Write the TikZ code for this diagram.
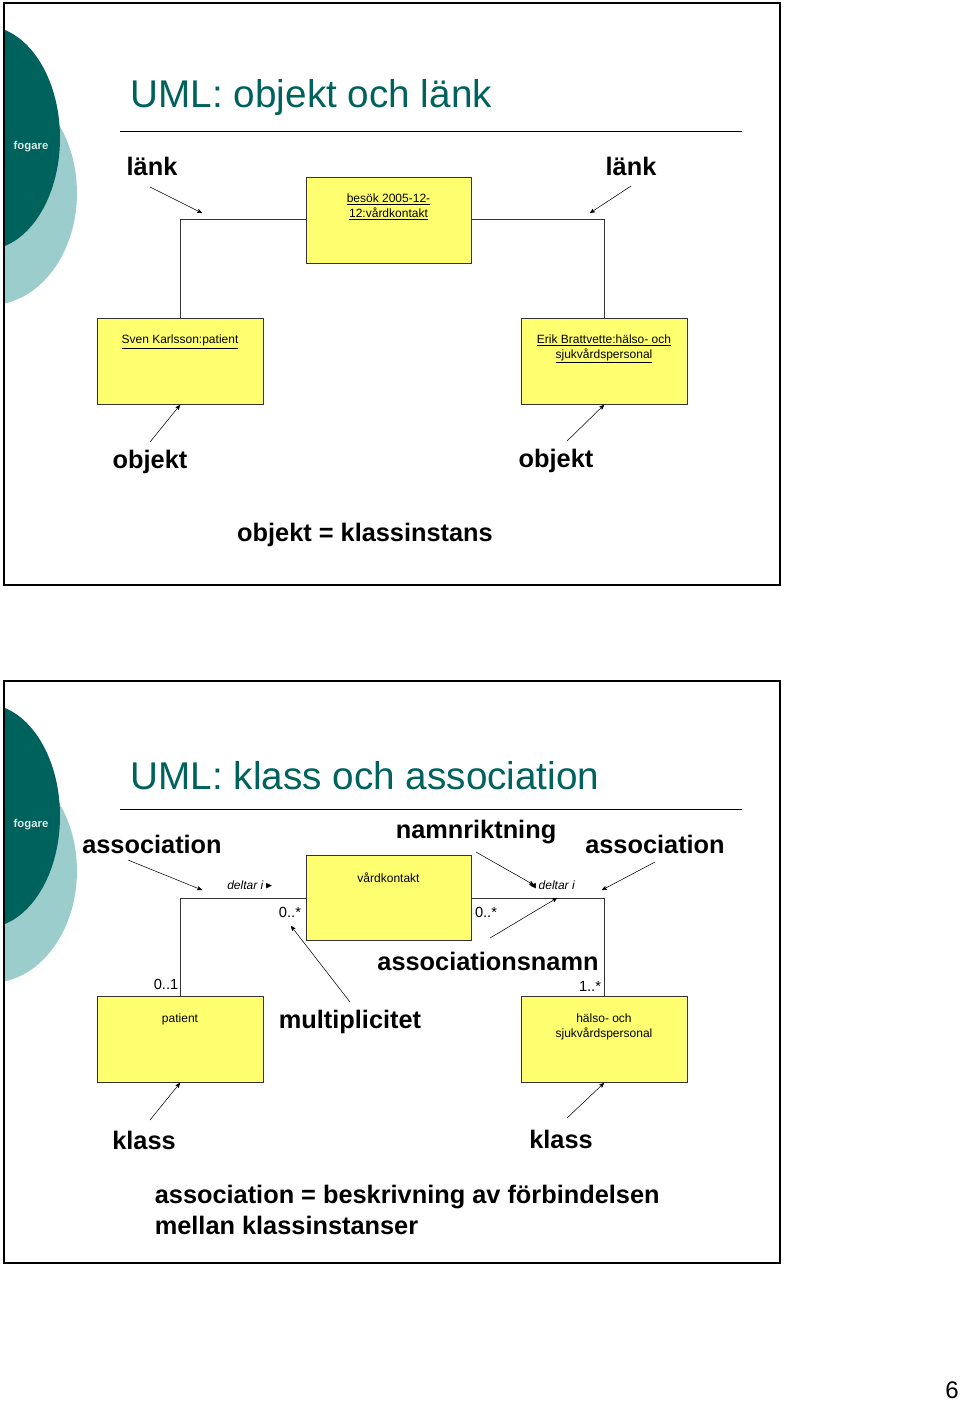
\documentclass[tikz,border=0pt]{standalone}
\usepackage{amssymb}
\usepackage{fontspec}
\setmainfont{Liberation Sans}
\usetikzlibrary{arrows}
\definecolor{teal1}{RGB}{0,98,92}
\definecolor{teal2}{RGB}{155,205,205}
\definecolor{boxyellow}{RGB}{255,255,112}
\begin{document}
\begin{tikzpicture}[x=0.75pt,y=-0.75pt,->,>=stealth',semithick]
  \tikzstyle{obox}=[-,draw=black!80,fill=boxyellow,thin]
  \tikzstyle{slidetitle}=[text=teal1,font=\fontsize{29}{34}\selectfont,anchor=west]
  \tikzstyle{big}=[font=\bfseries\fontsize{19}{23}\selectfont]
  \tikzstyle{small}=[font=\fontsize{9}{11}\selectfont,align=center]
  \tikzstyle{mult}=[font=\fontsize{11}{13}\selectfont]
  \tikzstyle{wire}=[-,draw=black!80,thin]
  \tikzstyle{pointer}=[->,thin]
  \useasboundingbox (0,0) rectangle (960,1401);

  % slides with logo
  \foreach \top in {3,681} {
    \begin{scope}
      \clip (4,\top) rectangle (780,\top+582);
      \fill[teal2] (-10,\top+190) ellipse (87 and 112);
      \fill[teal1] (-15,\top+135) ellipse (75 and 112);
    \end{scope}
    \draw[-,thick] (4,\top) rectangle (780,\top+582);
    \node[text=white!85!teal1,font=\bfseries\fontsize{8.5}{10}\selectfont] at (31,\top+144) {fogare};
    \draw[-,thin] (120,\top+128) -- (742,\top+128);
  }

  % objekt och länk
  \node[slidetitle] (T1) at (126,98) {UML: objekt och länk};
  \draw[obox] (306,177) rectangle (471,263);
  \node[small,anchor=north] (V1) at (388.5,189) {\underline{besök 2005-12-}\\\underline{12:vårdkontakt}};
  \draw[obox] (97,318) rectangle (263,404);
  \node[small,anchor=north] (P1) at (180,330) {\underline{Sven Karlsson:patient}};
  \draw[obox] (521,318) rectangle (687,404);
  \node[small,anchor=north] (H1) at (604,330) {\underline{Erik Brattvette:hälso- och}\\\underline{sjukvårdspersonal}};
  \coordinate (PT1) at (180,318); \coordinate (VL1) at (306,219);
  \coordinate (VR1) at (471,219); \coordinate (HT1) at (604,318);
  \draw[wire] (PT1) |- (VL1);
  \draw[wire] (VR1) -| (HT1);

  \node[big] (L1) at (152,166) {länk};
  \node[big] (L2) at (631,166) {länk};
  \node[big] (O1) at (150,462) {objekt};
  \node[big] (O2) at (556,461) {objekt};
  \node[big] (D1) at (365,535) {objekt = klassinstans};
  \coordinate (a1) at (202,213); \coordinate (a2) at (590,213);
  \coordinate (a3) at (180,405); \coordinate (a4) at (604,405);
  \draw[pointer] (150,187) -- (a1);
  \draw[pointer] (631,186) -- (a2);
  \draw[pointer] (150,442) -- (a3);
  \draw[pointer] (567,441) -- (a4);

  % klass och association
  \node[slidetitle] (T2) at (126,776) {UML: klass och association};
  \draw[obox] (306,855) rectangle (471,940);
  \node[small,anchor=north] (V2) at (388.5,868) {vårdkontakt};
  \draw[obox] (97,996) rectangle (263,1082);
  \node[small,anchor=north] (P2) at (180,1009) {patient};
  \draw[obox] (521,996) rectangle (687,1082);
  \node[small,anchor=north] (H2) at (604,1009) {hälso- och\\sjukvårdspersonal};
  \coordinate (PT2) at (180,996); \coordinate (VL2) at (306,898);
  \coordinate (VR2) at (471,898); \coordinate (HT2) at (604,996);
  \draw[wire] (PT2) |- (VL2);
  \draw[wire] (VR2) -| (HT2);

  \node[small,font=\itshape\fontsize{9}{11}\selectfont] (N1) at (250,885) {deltar i\,\raisebox{.2ex}{\scalebox{.8}{$\blacktriangleright$}}};
  \node[small,font=\itshape\fontsize{9}{11}\selectfont] (N2) at (552,885) {\raisebox{.2ex}{\scalebox{.8}{$\blacktriangleleft$}}\,deltar i};
  \node[mult] (M1) at (290,912) {0..*};
  \node[mult] (M2) at (486,912) {0..*};
  \node[mult] (M3) at (166,984) {0..1};
  \node[mult] (M4) at (590,986) {1..*};

  \node[big] (A1) at (152,844) {association};
  \node[big] (A2) at (655,844) {association};
  \node[big] (R1) at (476,832) {namnriktning};
  \node[big] (S1) at (488,961) {associationsnamn};
  \node[big] (U1) at (350,1022) {multiplicitet};
  \node[big] (K1) at (144,1140) {klass};
  \node[big] (K2) at (561,1139) {klass};
  \node[big,anchor=west,align=left] (D2) at (150,1210) {association = beskrivning av förbindelsen\\mellan klassinstanser};
  \coordinate (b1) at (202,890); \coordinate (b2) at (602,890);
  \coordinate (b3) at (534,885); \coordinate (b4) at (557,898);
  \coordinate (b5) at (291,926); \coordinate (b6) at (180,1083);
  \coordinate (b7) at (604,1083);
  \draw[pointer] (128,860) -- (b1);
  \draw[pointer] (655,862) -- (b2);
  \draw[pointer] (476,852) -- (b3);
  \draw[pointer] (490,938) -- (b4);
  \draw[pointer] (350,1002) -- (b5);
  \draw[pointer] (150,1120) -- (b6);
  \draw[pointer] (567,1118) -- (b7);

  \node[font=\fontsize{18}{22}\selectfont] (PG) at (952,1390) {6};
\end{tikzpicture}
\end{document}
